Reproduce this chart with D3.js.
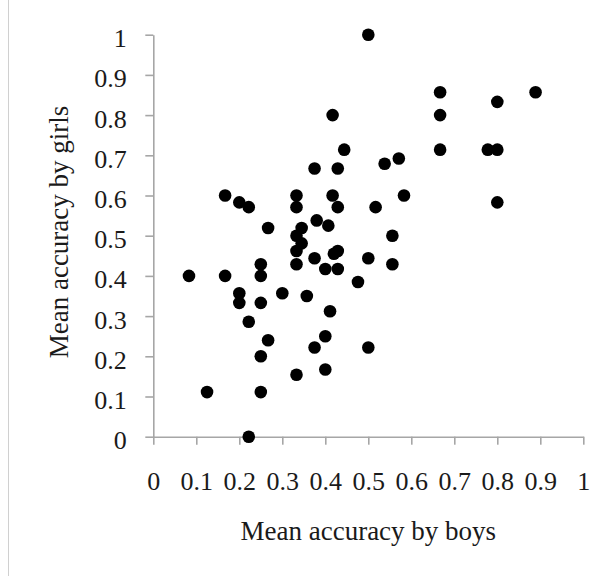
<!DOCTYPE html>
<html>
<head>
<meta charset="utf-8">
<script src="https://cdn.jsdelivr.net/npm/d3@7"></script>
<style>
  body { margin: 0; background: #fff; }
  text { font-family: "Liberation Serif", "DejaVu Serif", serif; fill: #1a1a1a; }
</style>
</head>
<body>
<svg id="chart" width="591" height="576"></svg>
<script>
"use strict"

// mean accuracy per item, boys (x) and girls (y)
const boys = [
  0.083, 0.125, 0.167, 0.167, 0.2, 0.2, 0.2, 0.222, 0.222, 0.222,
  0.25, 0.25, 0.25, 0.25, 0.25, 0.267, 0.267, 0.3, 0.333, 0.333,
  0.333, 0.333, 0.333, 0.333, 0.345, 0.345, 0.357, 0.375, 0.375, 0.375,
  0.38, 0.4, 0.4, 0.4, 0.407, 0.411, 0.417, 0.417, 0.42, 0.429,
  0.429, 0.429, 0.429, 0.444, 0.476, 0.5, 0.5, 0.5, 0.517, 0.538,
  0.556, 0.556, 0.571, 0.583, 0.667, 0.667, 0.667, 0.778, 0.8, 0.8,
  0.8, 0.889
];
const girls = [
  0.4, 0.111, 0.6, 0.4, 0.583, 0.357, 0.333, 0.571, 0.286, 0,
  0.429, 0.4, 0.333, 0.2, 0.111, 0.519, 0.24, 0.357, 0.6, 0.571,
  0.5, 0.462, 0.429, 0.154, 0.519, 0.481, 0.35, 0.667, 0.444, 0.222,
  0.538, 0.417, 0.25, 0.167, 0.525, 0.312, 0.8, 0.6, 0.455, 0.667,
  0.571, 0.462, 0.417, 0.714, 0.385, 1, 0.444, 0.222, 0.571, 0.679,
  0.5, 0.429, 0.692, 0.6, 0.857, 0.8, 0.714, 0.714, 0.833, 0.714,
  0.583, 0.857
];
const xTicks = [0, 0.1, 0.2, 0.3, 0.4, 0.5, 0.6, 0.7, 0.8, 0.9, 1];
const yTicks = [0, 0.1, 0.2, 0.3, 0.4, 0.5, 0.6, 0.7, 0.8, 0.9, 1];
const xTitle = "Mean accuracy by boys";
const yTitle = "Mean accuracy by girls";

let svg = d3.select("#chart");
let plotLeft = 153.3, plotRight = 583.3, plotTop = 34.7, plotBottom = 436.7;
let axisColor = "#a6a6a6";
let tickFont = 26, titleFont = 27;

// thin frame line on the left edge
svg.append("line")
    .attr("x1", 8.5).attr("x2", 8.5)
    .attr("y1", 0).attr("y2", 576)
    .attr("stroke", "#d0d0d0")
    .attr("stroke-width", 1);

let x = d3.scaleLinear().domain([0, 1]).range([plotLeft, plotRight]);
let y = d3.scaleLinear().domain([0, 1]).range([plotBottom, plotTop]);

/**
 * @function
 * @description styles an axis group the excel way: gray line, outward ticks
 */
function styleAxis(g){
    g.selectAll("path").attr("stroke", axisColor).attr("stroke-width", 1.6);
    g.selectAll("line").attr("stroke", axisColor).attr("stroke-width", 1.6);
    g.selectAll("text")
        .style("font-family", "Liberation Serif, serif")
        .attr("font-size", tickFont)
        .attr("fill", "#1a1a1a");
}

let gx = svg.append("g")
    .attr("transform", "translate(0," + plotBottom + ")")
    .call(d3.axisBottom(x).tickValues(xTicks).tickSize(8).tickSizeOuter(0)
        .tickFormat(d3.format("")))
gx.call(styleAxis);
gx.selectAll("text").attr("y", 53).attr("dy", 0);

let gy = svg.append("g")
    .attr("transform", "translate(" + plotLeft + ",0)")
    .call(d3.axisLeft(y).tickValues(yTicks).tickSize(8).tickSizeOuter(0)
        .tickFormat(d3.format("")))
gy.call(styleAxis);
gy.selectAll("text").attr("x", -26.5).attr("dy", 12);

// points
svg.append("g")
    .selectAll("circle")
    .data(boys.map((b, i) => [b, girls[i]]))
    .join("circle")
    .attr("cx", d => x(d[0]))
    .attr("cy", d => y(d[1]))
    .attr("r", 6.3)
    .attr("fill", "#000");

// axis titles
svg.append("text")
    .attr("x", (plotLeft + plotRight) / 2)
    .attr("y", 540)
    .attr("text-anchor", "middle")
    .attr("font-size", titleFont)
    .text(xTitle);

svg.append("text")
    .attr("transform", "translate(68,232) rotate(-90)")
    .attr("text-anchor", "middle")
    .attr("font-size", titleFont)
    .text(yTitle);
</script>
</body>
</html>
